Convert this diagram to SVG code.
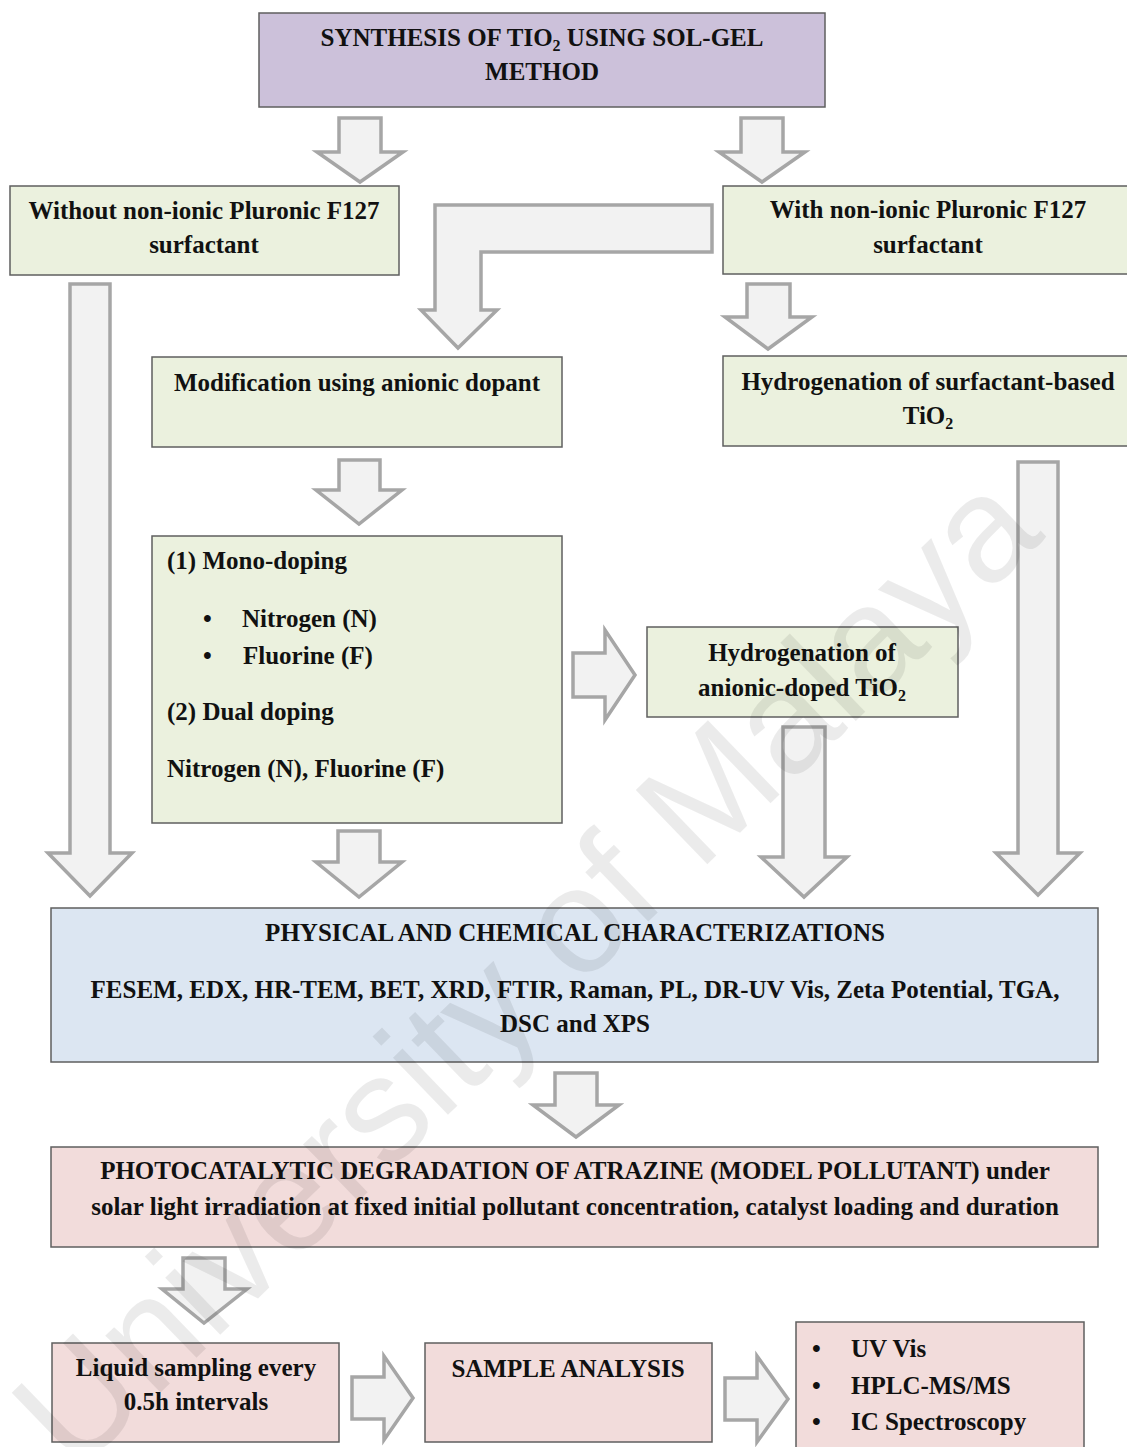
<svg xmlns="http://www.w3.org/2000/svg" width="1127" height="1447" viewBox="0 0 1127 1447">
<style>
.box{stroke:#5f5f5f;stroke-width:1.5}
.purple{fill:#ccc1da}
.green{fill:#ebf1de}
.blue{fill:#dce6f2}
.pink{fill:#f2dcdb}
.t{font-family:"Liberation Serif","Times New Roman",serif;font-weight:bold;font-size:25px;fill:#111}
.c{text-anchor:middle}
.arr{fill:#f2f2f2;stroke:#a6a6a6;stroke-width:3.5;stroke-linejoin:miter}
.wm{font-family:"Liberation Sans",Arial,sans-serif;font-size:150px;fill:#000;fill-opacity:0.08}
</style>
<rect width="1127" height="1447" fill="#ffffff"/>

<g id="connectors">
<polygon class="arr" points="339,118 381,118 381,152 403,152 360,182 317,152 339,152"/>
<polygon class="arr" points="741,118 783,118 783,152 805,152 762,182 719,152 741,152"/>
<polygon class="arr" points="712,205 435,205 435,310 421,310 458,348 497,310 481,310 481,252 712,252"/>
<polygon class="arr" points="747,284 790,284 790,317 812,317 768,349 725,317 747,317"/>
<polygon class="arr" points="70,284 110,284 110,853 132,853 90,896 48,853 70,853"/>
<polygon class="arr" points="339,460 380,460 380,490 402,490 359,524 316,490 339,490"/>
<polygon class="arr" points="573,653 605,653 605,630 635,675 605,720 605,697 573,697"/>
<polygon class="arr" points="1018,462 1058,462 1058,853 1080,853 1038,895 996,853 1018,853"/>
<polygon class="arr" points="338,831 380,831 380,862 402,862 359,897 316,862 338,862"/>
<polygon class="arr" points="783,727 825,727 825,857 847,857 804,897 761,857 783,857"/>
<polygon class="arr" points="555,1073 597,1073 597,1105 619,1105 576,1137 533,1105 555,1105"/>
<polygon class="arr" points="183,1258 225,1258 225,1289 247,1289 204,1323 162,1289 183,1289"/>
<polygon class="arr" points="352,1377 384,1377 384,1356 413,1398 384,1440 384,1419 352,1419"/>
<polygon class="arr" points="725,1378 757,1378 757,1356 788,1399 757,1442 757,1420 725,1420"/>
</g>

<g id="synthesis">
<rect class="box purple" x="259" y="13" width="566" height="94"/>
<text class="t c" x="542" y="46">SYNTHESIS OF TIO<tspan font-size="16" dy="5">2</tspan><tspan dy="-5"> USING SOL-GEL</tspan></text>
<text class="t c" x="542" y="80">METHOD</text>
</g>

<g id="without-surfactant">
<rect class="box green" x="10" y="186" width="389" height="89"/>
<text class="t c" x="204" y="219">Without non-ionic Pluronic F127</text>
<text class="t c" x="204" y="253">surfactant</text>
</g>

<g id="with-surfactant">
<rect class="box green" x="723" y="186" width="410" height="88"/>
<text class="t c" x="928" y="218">With non-ionic Pluronic F127</text>
<text class="t c" x="928" y="253">surfactant</text>
</g>

<g id="modification">
<rect class="box green" x="152" y="357" width="410" height="90"/>
<text class="t c" x="357" y="391">Modification using anionic dopant</text>
</g>

<g id="hydrogenation-surfactant">
<rect class="box green" x="723" y="356" width="410" height="90"/>
<text class="t c" x="928" y="390">Hydrogenation of surfactant-based</text>
<text class="t c" x="928" y="424">TiO<tspan font-size="16" dy="5">2</tspan></text>
</g>

<g id="doping">
<rect class="box green" x="152" y="536" width="410" height="287"/>
<text class="t" x="167" y="569">(1) Mono-doping</text>
<text class="t" x="203" y="627">•</text>
<text class="t" x="242" y="627">Nitrogen (N)</text>
<text class="t" x="203" y="664">•</text>
<text class="t" x="243" y="664">Fluorine (F)</text>
<text class="t" x="167" y="720">(2) Dual doping</text>
<text class="t" x="167" y="777">Nitrogen (N), Fluorine (F)</text>
</g>

<g id="hydrogenation-anionic">
<rect class="box green" x="647" y="627" width="311" height="90"/>
<text class="t c" x="802" y="661">Hydrogenation of</text>
<text class="t c" x="802" y="696">anionic-doped TiO<tspan font-size="16" dy="5">2</tspan></text>
</g>

<g id="characterizations">
<rect class="box blue" x="51" y="908" width="1047" height="154"/>
<text class="t c" x="575" y="941">PHYSICAL AND CHEMICAL CHARACTERIZATIONS</text>
<text class="t c" x="575" y="998">FESEM, EDX, HR-TEM, BET, XRD, FTIR, Raman, PL, DR-UV Vis, Zeta Potential, TGA,</text>
<text class="t c" x="575" y="1032">DSC and XPS</text>
</g>

<g id="photocatalytic">
<rect class="box pink" x="51" y="1147" width="1047" height="100"/>
<text class="t c" x="575" y="1179">PHOTOCATALYTIC DEGRADATION OF ATRAZINE (MODEL POLLUTANT) under</text>
<text class="t c" x="575" y="1215">solar light irradiation at fixed initial pollutant concentration, catalyst loading and duration</text>
</g>

<g id="liquid-sampling">
<rect class="box pink" x="52" y="1343" width="287" height="99"/>
<text class="t c" x="196" y="1376">Liquid sampling every</text>
<text class="t c" x="196" y="1410">0.5h intervals</text>
</g>

<g id="sample-analysis">
<rect class="box pink" x="425" y="1343" width="287" height="99"/>
<text class="t c" x="568" y="1377">SAMPLE ANALYSIS</text>
</g>

<g id="methods">
<rect class="box pink" x="796" y="1322" width="288" height="140"/>
<text class="t" x="812" y="1357">•</text>
<text class="t" x="851" y="1357">UV Vis</text>
<text class="t" x="812" y="1394">•</text>
<text class="t" x="851" y="1394">HPLC-MS/MS</text>
<text class="t" x="812" y="1430">•</text>
<text class="t" x="851" y="1430">IC Spectroscopy</text>
</g>

<text class="wm" x="75" y="1475" transform="rotate(-44 75 1475)">University of Malaya</text>
</svg>
